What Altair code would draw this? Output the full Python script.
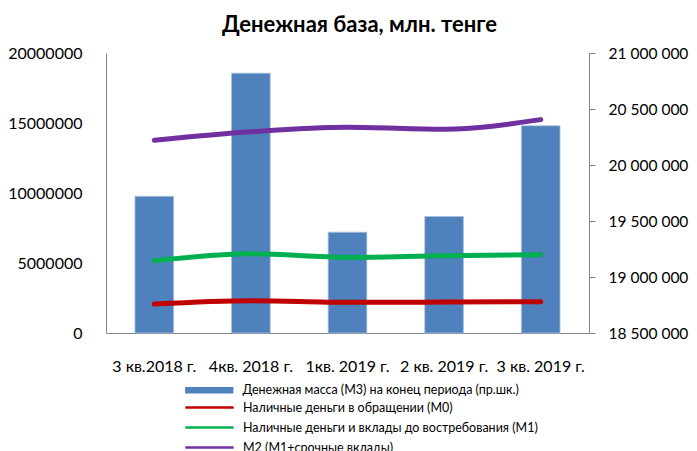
import altair as alt
import pandas as pd

categories = ["3 кв.2018 г.", "4кв. 2018 г.", "1кв. 2019 г.", "2 кв. 2019 г.", "3 кв. 2019 г."]
m3_values = [19720000, 20820000, 19400000, 19540000, 20350000]
m0_values = [2070000, 2310000, 2190000, 2210000, 2240000]
m1_values = [5160000, 5660000, 5400000, 5520000, 5590000]
m2_values = [13760000, 14370000, 14700000, 14560000, 15240000]

bar_name = "Денежная масса (М3) на конец периода (пр.шк.)"
line_names = [
    "Наличные деньги  в обращении (М0)",
    "Наличные деньги и вклады до востребования (М1)",
    "М2 (М1+срочные вклады)",
]
bar_color = "#4F81BD"
line_colors = ["#C00000", "#00B050", "#7030A0"]
title_text = "Денежная база, млн. тенге"

FONT = "Lato"
AXIS_GREY = "#868686"

bar_df = pd.DataFrame({"cat": categories, "value": m3_values, "series": [bar_name] * len(categories)})
rows = []
for name, vals in zip(line_names, [m0_values, m1_values, m2_values]):
    for i, (c, v) in enumerate(zip(categories, vals)):
        rows.append({"cat": c, "value": v, "series": name, "idx": i})
line_df = pd.DataFrame(rows)

x_axis = alt.Axis(labels=False, ticks=False, domainColor=AXIS_GREY)


def x_enc():
    return alt.X(
        "cat:N",
        sort=categories,
        title=None,
        scale=alt.Scale(paddingInner=0.6, paddingOuter=0.3),
        axis=x_axis,
    )


bars = alt.Chart(bar_df).mark_bar(stroke="#A7BFDE", strokeWidth=0.8).encode(
    x=x_enc(),
    y=alt.Y(
        "value:Q",
        title=None,
        scale=alt.Scale(domain=[18500000, 21000000], zero=False, nice=False),
        axis=alt.Axis(
            orient="right", values=[18500000, 19000000, 19500000, 20000000, 20500000, 21000000],
            labelExpr="replace(format(datum.value, ',.0f'), /,/g, ' ')",
            grid=False,
        ),
    ),
    y2=alt.datum(18500000),
    fill=alt.Fill(
        "series:N",
        scale=alt.Scale(domain=[bar_name], range=[bar_color]),
        legend=alt.Legend(
            title=None, orient="none", legendX=79, legendY=331, padding=0,
            symbolType="M-4.83,-0.65H4.83V0.65H-4.83Z", symbolSize=100, symbolStrokeWidth=0,
            symbolOffset=18, labelOffset=27,
        ),
    ),
)

# category labels under the x axis (drawn as text from the categories list)
cat_labels = alt.Chart(bar_df).mark_text(
    font=FONT, fontSize=16, color="black", align="center", baseline="middle"
).encode(
    x=x_enc(),
    y=alt.value(314),
    text="cat:N",
)

lines = alt.Chart(line_df).mark_line(strokeWidth=5, strokeCap="round", interpolate="monotone").encode(
    x=x_enc(),
    y=alt.Y(
        "value:Q",
        title=None,
        scale=alt.Scale(domain=[0, 20000000], nice=False),
        axis=alt.Axis(
            orient="left", values=[0, 5000000, 10000000, 15000000, 20000000], format="d",
            grid=False,
        ),
    ),
    stroke=alt.Stroke(
        "series:N",
        scale=alt.Scale(domain=line_names, range=line_colors),
        legend=alt.Legend(
            title=None, orient="none", legendX=79, legendY=348, padding=0,
            symbolType="M-4.83,0H4.83", symbolSize=100, symbolStrokeWidth=2.5,
            symbolOffset=18, labelOffset=27, rowPadding=7,
        ),
    ),
    order=alt.Order("idx:Q"),
)

chart = (
    alt.layer(bars, cat_labels, lines)
    .resolve_scale(y="independent", fill="independent", stroke="independent")
    .properties(
        width=483,
        height=280,
        padding={"left": 98, "top": 45, "right": 100, "bottom": 120},
        autosize=alt.AutoSizeParams(type="none"),
        title=alt.Title(
            title_text, font=FONT, fontSize=22, fontWeight="bold", color="black",
            anchor="middle", dx=12, offset=8,
        ),
    )
    .configure_view(stroke=None)
    .configure_axis(
        labelFont=FONT, labelFontSize=16, labelColor="black",
        domainColor=AXIS_GREY, domainWidth=1, tickColor=AXIS_GREY, grid=False,
    )
    .configure_axisLeft(ticks=False, labelPadding=24)
    .configure_axisRight(ticks=True, tickSize=6, labelPadding=13, labelFontSize=15.5)
    .configure_legend(labelFont=FONT, labelFontSize=12.5, labelColor="black", labelLimit=0)
)

chart.save("out.html", embed_options={"renderer": "svg", "actions": False})
